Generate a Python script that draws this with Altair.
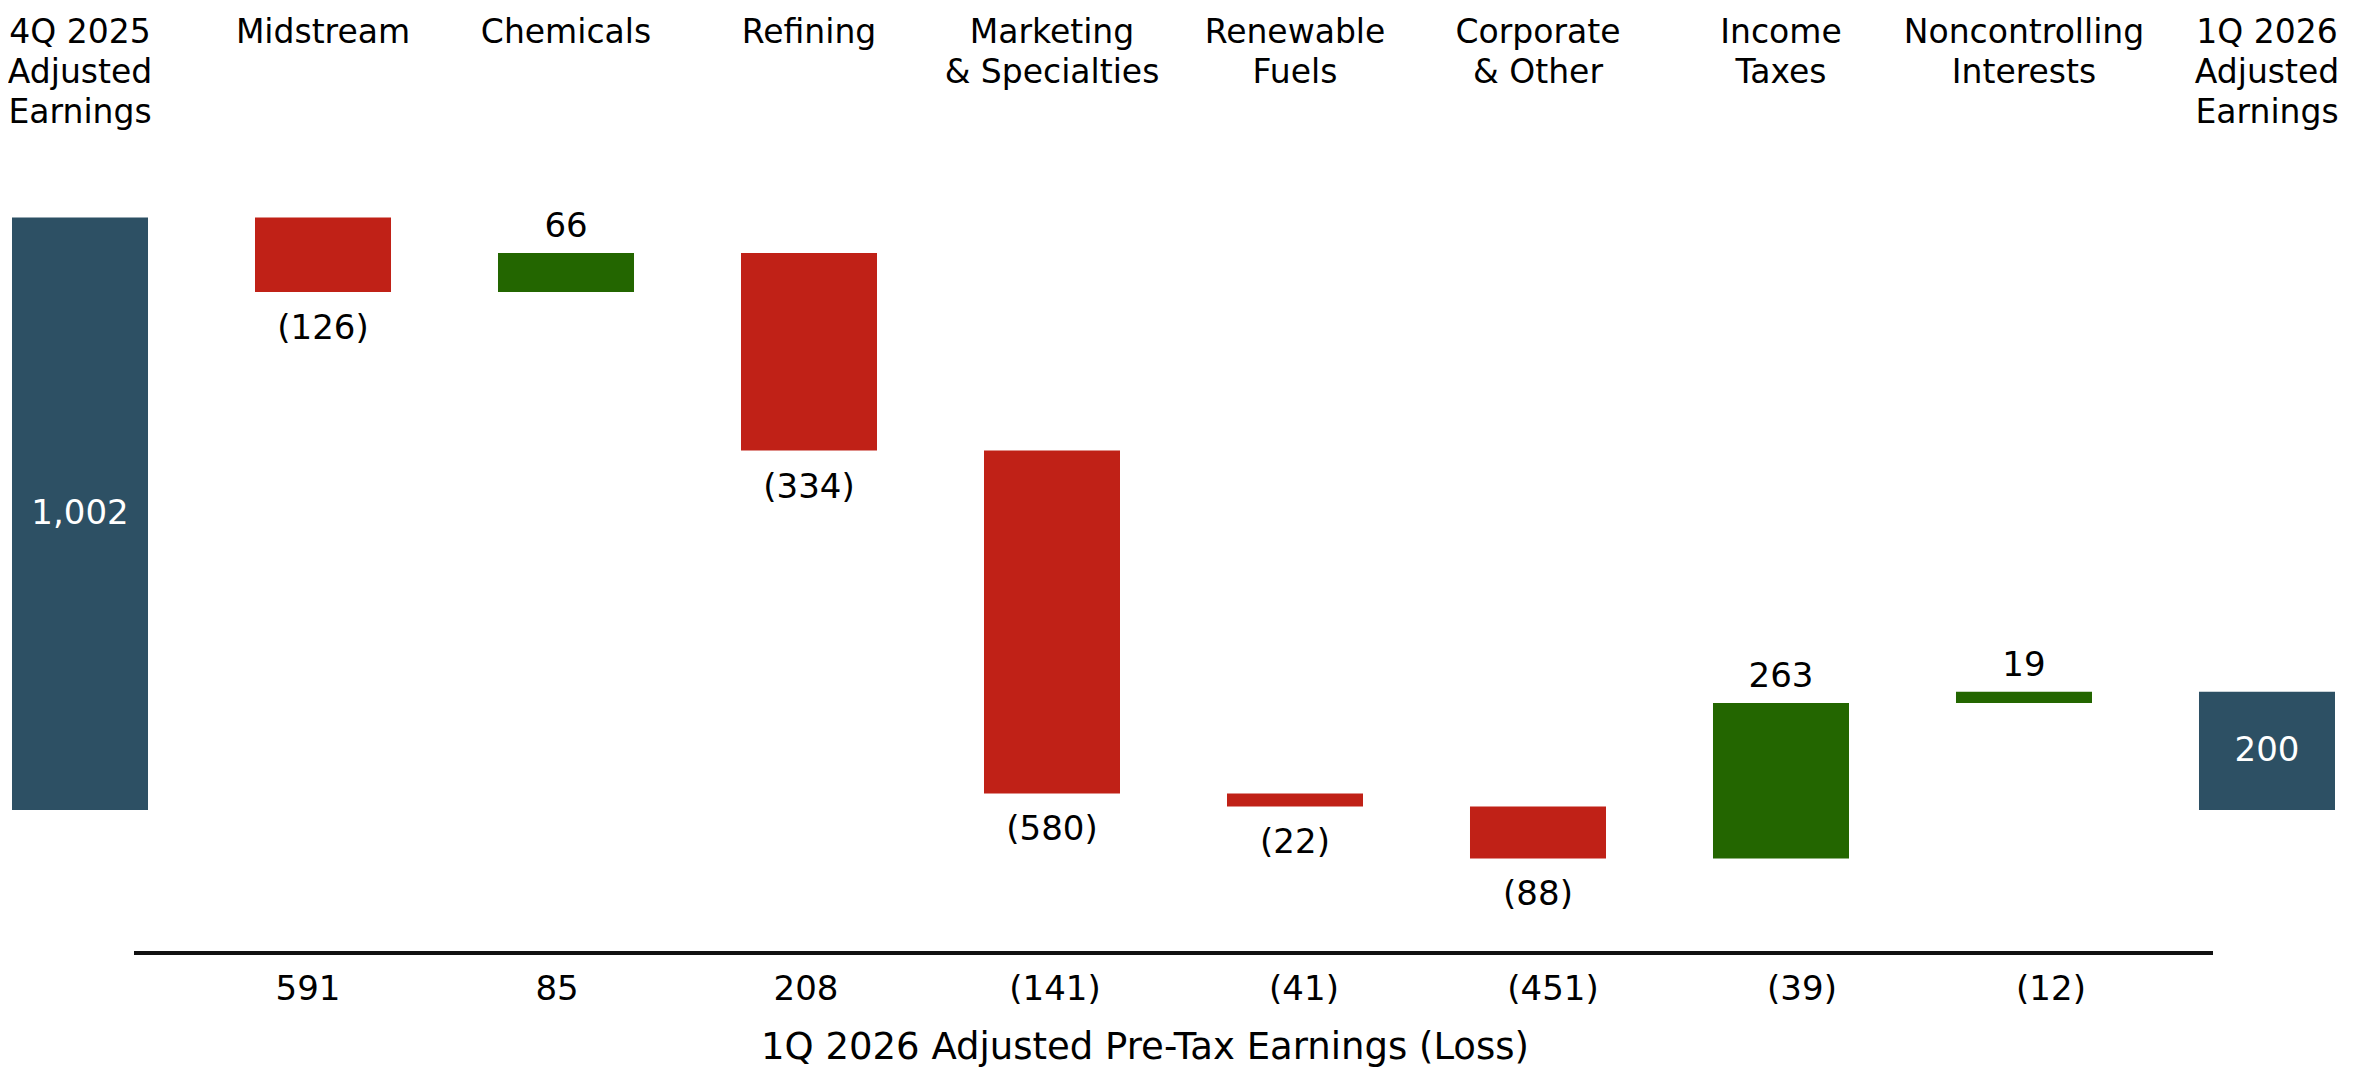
import altair as alt
import pandas as pd

# ---- data ----
categories = [
    "4Q 2025\nAdjusted\nEarnings", "Midstream", "Chemicals", "Refining",
    "Marketing\n& Specialties", "Renewable\nFuels", "Corporate\n& Other",
    "Income\nTaxes", "Noncontrolling\nInterests", "1Q 2026\nAdjusted\nEarnings",
]
is_total = [True, False, False, False, False, False, False, False, False, True]
changes = [1002, -126, 66, -334, -580, -22, -88, 263, 19, 200]

pretax_categories = ["Midstream", "Chemicals", "Refining", "Marketing & Specialties",
                     "Renewable Fuels", "Corporate & Other", "Income Taxes",
                     "Noncontrolling Interests"]
pretax_values = [591, 85, 208, -141, -41, -451, -39, -12]

axis_title = "1Q 2026 Adjusted Pre-Tax Earnings (Loss)"

TEAL = "#2D5064"
RED = "#C02117"
GREEN = "#236600"
FONT = "DejaVu Sans"


def fmt(v):
    return f"({abs(v):,})" if v < 0 else f"{v:,}"


rows = []
running = 0
for cat, tot, v in zip(categories, is_total, changes):
    if tot:
        start, end = 0, v
        kind = "total"
    else:
        start, end = running, running + v
        kind = "up" if v > 0 else "down"
    running = end
    rows.append({"cat": cat, "start": start, "end": end, "kind": kind, "label": fmt(v)})
df = pd.DataFrame(rows)

pretax_df = pd.DataFrame({"seg": pretax_categories,
                          "label": [fmt(v) for v in pretax_values]})

W, H = 2331, 1062
xscale = alt.Scale(type="band", domain=categories, paddingInner=0.4403, paddingOuter=0.01646)
yscale = alt.Scale(domain=[-439.8, 1356.5], nice=False, zero=False)

X = alt.X("cat:N", sort=categories, scale=xscale, axis=None)

base = alt.Chart(df)

bars = base.mark_bar().encode(
    x=X,
    y=alt.Y("start:Q", scale=yscale, axis=None),
    y2="end:Q",
    color=alt.Color("kind:N", scale=alt.Scale(domain=["total", "up", "down"],
                                              range=[TEAL, GREEN, RED]), legend=None),
)

headers = base.mark_text(font=FONT, fontSize=33, lineBreak="\n", lineHeight=40,
                         baseline="top", align="center", color="#000").encode(
    x=X, y=alt.value(9), text="cat:N")

up_labels = base.transform_filter(alt.datum.kind == "up").mark_text(
    font=FONT, fontSize=34, baseline="alphabetic", dy=-16, color="#000").encode(
    x=X, y=alt.Y("end:Q", scale=yscale, axis=None), text="label:N")

down_labels = base.transform_filter(alt.datum.kind == "down").mark_text(
    font=FONT, fontSize=34, baseline="top", dy=20, color="#000").encode(
    x=X, y=alt.Y("end:Q", scale=yscale, axis=None), text="label:N")

total_labels = base.transform_filter(alt.datum.kind == "total").transform_calculate(
    mid="(datum.start + datum.end) / 2").mark_text(
    font=FONT, fontSize=34, baseline="middle", color="white").encode(
    x=X, y=alt.Y("mid:Q", scale=yscale, axis=None), text="label:N")

one = pd.DataFrame({"t": [axis_title]})

rule = alt.Chart(one).mark_rule(color="#111111", strokeWidth=4).encode(
    x=alt.value(126), x2=alt.value(2205), y=alt.value(945))

pretax_text = alt.Chart(pretax_df).mark_text(
    font=FONT, fontSize=34, baseline="alphabetic", color="#000").encode(
    x=alt.X("seg:N", sort=pretax_categories,
            scale=alt.Scale(type="point", domain=pretax_categories, range=[300, 2043],
                            padding=0),
            axis=None),
    y=alt.value(992),
    text="label:N")

title = alt.Chart(one).mark_text(font=FONT, fontSize=37, baseline="alphabetic",
                                 align="center", color="#000").encode(
    x=alt.value(1137), y=alt.value(1051), text="t:N")

chart = alt.layer(bars, headers, up_labels, down_labels, total_labels,
                  rule, pretax_text, title).resolve_scale(x="independent").properties(
    width=W, height=H, padding=0, background="white",
    autosize=alt.AutoSizeParams(type="none"),
).configure_view(stroke=None)

chart.save("out.html", embed_options={"renderer": "svg", "actions": False})
